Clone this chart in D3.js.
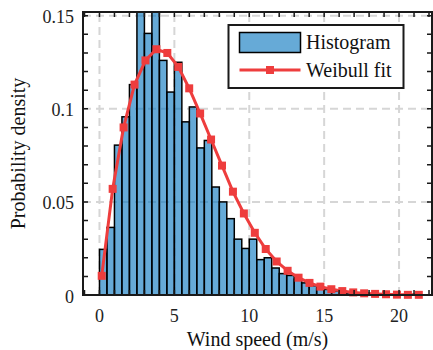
<!DOCTYPE html>
<html>
<head>
<meta charset="utf-8">
<script src="https://cdn.jsdelivr.net/npm/d3@7"></script>
<style>
  body { margin: 0; background: #fff; }
  svg { display: block; font-family: "Liberation Serif", "Times New Roman", serif; }
</style>
</head>
<body>
<div id="d3-container"></div>
<script>
/**
 * CONSTANTS AND GLOBALS
 * */
const width = 433,
  height = 350,
  margin = { top: 12, bottom: 55, left: 83, right: 1 };

// histogram: bin width 0.5 m/s, starting at 0
const binWidth = 0.5;
const density = [
  0.0245, 0.0363, 0.0805, 0.0957, 0.113, 0.162, 0.1405, 0.158, 0.126, 0.109,
  0.125, 0.093, 0.101, 0.079, 0.083, 0.058, 0.050, 0.041, 0.030, 0.025,
  0.030, 0.019, 0.020, 0.0145, 0.0115, 0.0105, 0.0085, 0.0065, 0.005, 0.0035,
  0.003, 0.0022, 0.0018, 0.0012, 0.0009, 0.0006, 0.0005, 0.0003, 0.0002, 0.0002,
  0.0001, 0.0001, 0.0001, 0.0001
];

// weibull fit curve
const fitSpeed = [
  0.15, 0.88, 1.61, 2.34, 3.07, 3.8, 4.53, 5.26, 5.99, 6.72,
  7.45, 8.18, 8.91, 9.64, 10.37, 11.1, 11.83, 12.56, 13.29, 14.02,
  14.75, 15.48, 16.21, 16.94, 17.67, 18.4, 19.13, 19.86, 20.59, 21.32
];
const fitDensity = [
  0.0103, 0.057, 0.090, 0.113, 0.126, 0.132, 0.130, 0.1225, 0.111, 0.0975,
  0.0835, 0.0695, 0.0555, 0.0438, 0.0334, 0.0247, 0.018, 0.013, 0.0093, 0.0065,
  0.0045, 0.0031, 0.0021, 0.0014, 0.0009, 0.0006, 0.0004, 0.0002, 0.0001, 0.0001
];

const xTicks = [0, 5, 10, 15, 20];
const yTicks = [0, 0.05, 0.1, 0.15];
const xMinor = d3.range(-1, 23, 1);
const yMinor = d3.range(0, 0.152, 0.01);

const red = "#ee3d3d";

/**
 * SCALES
 * */
const x = d3.scaleLinear()
  .domain([-1.1, 22.2])
  .range([margin.left, width - margin.right]);

const y = d3.scaleLinear()
  .domain([0, 0.152])
  .range([height - margin.bottom, margin.top]);

const x0 = margin.left, x1 = width - margin.right;
const y0 = height - margin.bottom, y1 = margin.top;

const svg = d3.select("#d3-container")
  .append("svg")
  .attr("width", width)
  .attr("height", height);

svg.append("clipPath")
  .attr("id", "plot-clip")
  .append("rect")
  .attr("x", x0).attr("y", y1)
  .attr("width", x1 - x0).attr("height", y0 - y1);

// grid
const grid = svg.append("g")
  .attr("stroke", "#d6d6d6")
  .attr("stroke-width", 2)
  .attr("stroke-dasharray", "8,5");

grid.selectAll(".gx")
  .data(xTicks)
  .join("line")
  .attr("x1", d => x(d)).attr("x2", d => x(d))
  .attr("y1", y0).attr("y2", y1);

grid.selectAll(".gy")
  .data(yTicks.slice(1))
  .join("line")
  .attr("x1", x0).attr("x2", x1)
  .attr("y1", d => y(d)).attr("y2", d => y(d));

// histogram bars
const plot = svg.append("g").attr("clip-path", "url(#plot-clip)");

plot.selectAll(".bar")
  .data(density)
  .join("rect")
  .attr("class", "bar")
  .attr("x", (d, i) => x(i * binWidth))
  .attr("width", x(binWidth) - x(0))
  .attr("y", d => y(d))
  .attr("height", d => y(0) - y(d))
  .attr("fill", "#0072bd")
  .attr("fill-opacity", 0.6)
  .attr("stroke", "#000")
  .attr("stroke-width", 1.5);

// weibull line
const fitData = fitSpeed.map((s, i) => [s, fitDensity[i]]);

plot.append("path")
  .datum(fitData)
  .attr("fill", "none")
  .attr("stroke", red)
  .attr("stroke-width", 3)
  .attr("d", d3.line().x(d => x(d[0])).y(d => y(d[1])));

svg.append("g")
  .selectAll("rect")
  .data(fitData)
  .join("rect")
  .attr("x", d => x(d[0]) - 4)
  .attr("y", d => y(d[1]) - 4)
  .attr("width", 8)
  .attr("height", 8)
  .attr("fill", red);

// axes box with inward ticks
const axis = svg.append("g").attr("stroke", "#1a1a1a");

axis.append("rect")
  .attr("x", x0).attr("y", y1)
  .attr("width", x1 - x0).attr("height", y0 - y1)
  .attr("fill", "none")
  .attr("stroke-width", 2);

const tl = 5;
axis.selectAll(".tx")
  .data(xMinor.filter(d => x(d) > x0 + 1 && x(d) < x1 - 1))
  .join("path")
  .attr("stroke-width", 1.5)
  .attr("d", d => `M${x(d)},${y0}v${-tl}M${x(d)},${y1}v${tl}`);

axis.selectAll(".ty")
  .data(yMinor.filter(d => y(d) < y0 - 1 && y(d) > y1 + 1))
  .join("path")
  .attr("stroke-width", 1.5)
  .attr("d", d => `M${x0},${y(d)}h${tl}M${x1},${y(d)}h${-tl}`);

// tick labels
svg.append("g")
  .selectAll("text")
  .data(xTicks)
  .join("text")
  .attr("x", d => x(d))
  .attr("y", y0 + 27)
  .attr("text-anchor", "middle")
  .attr("font-size", 18)
  .attr("fill", "#222")
  .text(d => d);

svg.append("g")
  .selectAll("text")
  .data(yTicks)
  .join("text")
  .attr("x", x0 - 9)
  .attr("y", d => y(d) + 7.5)
  .attr("text-anchor", "end")
  .attr("font-size", 18)
  .attr("fill", "#222")
  .text(d => d3.format("~g")(d));

// axis labels
svg.append("text")
  .attr("x", (x0 + x1) / 2)
  .attr("y", 346)
  .attr("text-anchor", "middle")
  .attr("font-size", 20)
  .attr("fill", "#111")
  .text("Wind speed (m/s)");

svg.append("text")
  .attr("transform", `translate(25, ${(y0 + y1) / 2}) rotate(-90)`)
  .attr("text-anchor", "middle")
  .attr("font-size", 20)
  .attr("fill", "#111")
  .text("Probability density");

// legend
const legend = svg.append("g");

legend.append("rect")
  .attr("x", 228.5).attr("y", 25)
  .attr("width", 175).attr("height", 63)
  .attr("fill", "#fff")
  .attr("stroke", "#1a1a1a")
  .attr("stroke-width", 2);

legend.append("rect")
  .attr("x", 239.5).attr("y", 32.5)
  .attr("width", 61).attr("height", 20)
  .attr("fill", "#0072bd")
  .attr("fill-opacity", 0.6)
  .attr("stroke", "#000")
  .attr("stroke-width", 1.5);

legend.append("line")
  .attr("x1", 239.5).attr("x2", 300.5)
  .attr("y1", 70).attr("y2", 70)
  .attr("stroke", red)
  .attr("stroke-width", 3);

legend.append("rect")
  .attr("x", 266).attr("y", 66)
  .attr("width", 8).attr("height", 8)
  .attr("fill", red);

legend.selectAll(".ltext")
  .data(["Histogram", "Weibull fit"])
  .join("text")
  .attr("x", 306)
  .attr("y", (d, i) => 49 + i * 28)
  .attr("font-size", 20)
  .attr("fill", "#111")
  .text(d => d);
</script>
</body>
</html>
